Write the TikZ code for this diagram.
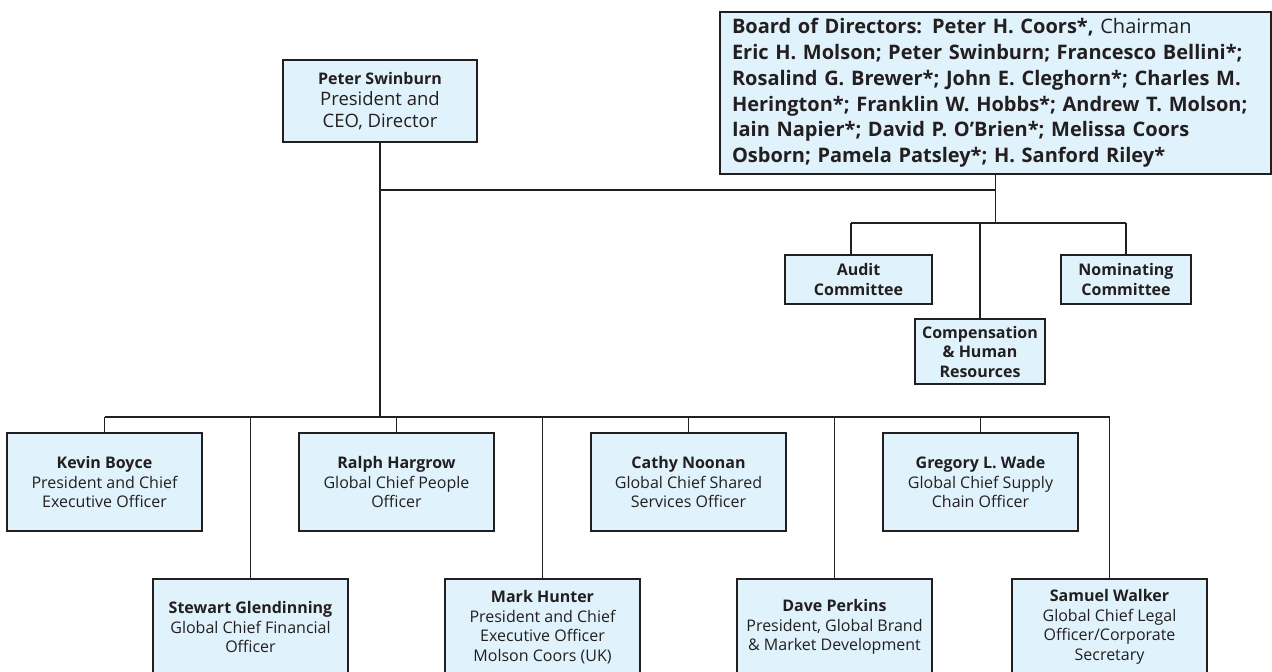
\documentclass[tikz,border=0pt]{standalone}
\usepackage{fontspec}
\setmainfont{Open Sans}
\definecolor{boxfill}{RGB}{224,242,252}
\definecolor{ink}{RGB}{35,31,32}
\newcommand\fsmall{\fontsize{16}{19.5}\selectfont}
\newcommand\fpeter{\fontsize{18.5}{21.5}\selectfont}
\newcommand\fboard{\fontsize{20}{25.8}\selectfont}
\tikzset{
  box/.style={draw=ink, fill=boxfill, line width=1.2pt, inner sep=0pt, align=center, text=ink, font=\fsmall},
  conn/.style={draw=ink, line width=1.2pt},
  officer/.style={box, minimum width=195pt, minimum height=98pt},
  officerlow/.style={box, minimum width=195pt, minimum height=96pt},
  committee/.style={box, minimum height=49pt, font=\fsmall\bfseries},
}
\begin{document}
\begin{tikzpicture}[x=1pt,y=-1pt]
\useasboundingbox (0,0) rectangle (1272,672);
\clip (0,0) rectangle (1272,672);
% top level
\node[box, minimum width=194pt, minimum height=82pt, font=\fpeter] (peter) at (380,101)
  {{\fontsize{16}{21.5}\selectfont\bfseries Peter Swinburn}\\President and\\CEO, Director};
\node[box, align=left, text width=527pt, inner xsep=12pt, minimum height=162pt, font=\fboard] (board) at (995.5,93)
  {\textbf{Board of Directors: Peter H. Coors*,} Chairman\\
   \textbf{Eric H. Molson; Peter Swinburn; Francesco Bellini*;}\\
   \textbf{Rosalind G. Brewer*; John E. Cleghorn*; Charles M.}\\
   \textbf{Herington*; Franklin W. Hobbs*; Andrew T. Molson;}\\
   \textbf{Iain Napier*; David P. O’Brien*; Melissa Coors}\\
   \textbf{Osborn; Pamela Patsley*; H. Sanford Riley*}};
% committees
\node[committee, minimum width=147pt] (audit) at (858.5,279.5) {Audit\\Committee};
\node[committee, minimum width=130pt] (nominating) at (1126,279.5) {Nominating\\Committee};
\node[committee, minimum width=130pt, minimum height=65pt] (comp) at (980,351.5) {Compensation\\\& Human\\Resources};
% officers top row
\node[officer] (kevin) at (104.5,482) {\textbf{Kevin Boyce}\\President and Chief\\Executive Officer};
\node[officer] (ralph) at (396.5,482) {\textbf{Ralph Hargrow}\\Global Chief People\\Officer};
\node[officer] (cathy) at (688.5,482) {\textbf{Cathy Noonan}\\Global Chief Shared\\Services Officer};
\node[officer] (gregory) at (980.5,482) {\textbf{Gregory L. Wade}\\Global Chief Supply\\Chain Officer};
% officers bottom row
\node[officerlow] (stewart) at (250.5,627) {\textbf{Stewart Glendinning}\\Global Chief Financial\\Officer};
\node[officerlow] (mark) at (542.5,627) {\textbf{Mark Hunter}\\President and Chief\\Executive Officer\\Molson Coors (UK)};
\node[officerlow] (dave) at (834.5,627) {\textbf{Dave Perkins}\\President, Global Brand\\\& Market Development};
\node[officerlow] (walker) at (1109.5,627) {\textbf{Samuel Walker}\\Global Chief Legal\\Officer/Corporate\\Secretary};
% connectors
\coordinate (hline) at (0,190);
\coordinate (cbus) at (0,223);
\coordinate (bus) at (0,417);
\coordinate (as) at (851,223);
\draw[conn] (peter.south) -- (peter.south |- bus);
\draw[conn] (peter.south |- hline) -- (board.south |- hline);
\draw[conn] (board.south) -- (board.south |- cbus);
\draw[conn] (as) -- (nominating.north |- cbus);
\draw[conn] (as) -- (as |- audit.north);
\draw[conn] (comp.north |- cbus) -- (comp.north);
\draw[conn] (nominating.north |- cbus) -- (nominating.north);
\draw[conn] (kevin.north |- bus) -- (walker.north |- bus);
\foreach \n in {kevin,stewart,ralph,mark,cathy,dave,gregory,walker}
  \draw[conn] (\n.north |- bus) -- (\n.north);
\end{tikzpicture}
\end{document}
